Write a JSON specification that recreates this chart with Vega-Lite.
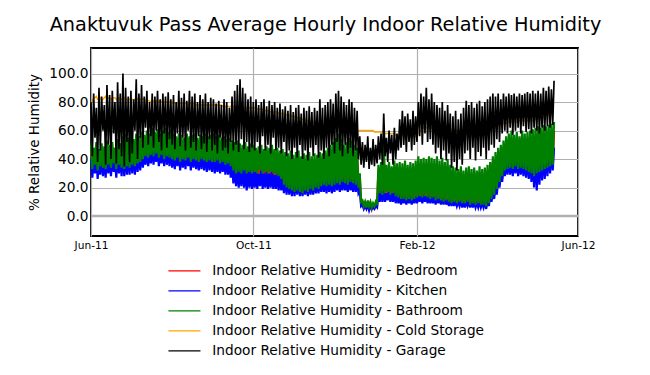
{
"$schema":"https://vega.github.io/schema/vega-lite/v6.json",
"autosize":"none","width":487,"height":188,
"padding":{"left":91,"top":48,"right":72,"bottom":139},
"background":"white",
"title":{"text":"Anaktuvuk Pass Average Hourly Indoor Relative Humidity","font":"DejaVu Sans","fontSize":19.3,"fontWeight":"normal","color":"black","anchor":"middle","dx":-9,"offset":13},
"config":{
"view":{"stroke":"black","strokeWidth":1.8},
"axis":{"domain":false,"ticks":false,"grid":true,"gridColor":"#b0b0b0","gridWidth":1.2,"labelFont":"DejaVu Sans","labelColor":"black","titleFont":"DejaVu Sans","titleColor":"black","titleFontWeight":"normal","labelOverlap":false},
"legend":{"labelFont":"DejaVu Sans","labelFontSize":13.7,"labelColor":"black","labelLimit":0}
},
"data":{"values":[
{"d":"2011-06-01","r":46,"k":40,"b":50,"c":79,"g":80},
{"d":"2011-06-02","r":32,"k":27,"b":33,"c":81,"g":42},
{"d":"2011-06-03","r":44,"k":41,"b":48,"c":83,"g":86},
{"d":"2011-06-04","r":34,"k":30,"b":36,"c":83,"g":55},
{"d":"2011-06-05","r":47,"k":42,"b":52,"c":84,"g":76},
{"d":"2011-06-06","r":31,"k":26,"b":32,"c":82,"g":38},
{"d":"2011-06-07","r":43,"k":38,"b":47,"c":82,"g":90},
{"d":"2011-06-08","r":33,"k":29,"b":35,"c":83,"g":46},
{"d":"2011-06-09","r":47,"k":43,"b":51,"c":81,"g":84},
{"d":"2011-06-10","r":32,"k":28,"b":34,"c":82,"g":60},
{"d":"2011-06-11","r":45,"k":40,"b":49,"c":83,"g":78},
{"d":"2011-06-12","r":31,"k":27,"b":33,"c":84,"g":36},
{"d":"2011-06-13","r":48,"k":44,"b":53,"c":82,"g":92},
{"d":"2011-06-14","r":34,"k":30,"b":36,"c":83,"g":50},
{"d":"2011-06-15","r":46,"k":41,"b":50,"c":83,"g":85},
{"d":"2011-06-16","r":32,"k":28,"b":34,"c":82,"g":40},
{"d":"2011-06-17","r":48,"k":43,"b":52,"c":82,"g":88},
{"d":"2011-06-18","r":35,"k":31,"b":37,"c":83,"g":58},
{"d":"2011-06-19","r":44,"k":39,"b":48,"c":83,"g":80},
{"d":"2011-06-20","r":31,"k":27,"b":33,"c":82,"g":37},
{"d":"2011-06-21","r":49,"k":44,"b":54,"c":82,"g":94},
{"d":"2011-06-22","r":34,"k":30,"b":36,"c":83,"g":47},
{"d":"2011-06-23","r":46,"k":42,"b":51,"c":82,"g":86},
{"d":"2011-06-24","r":32,"k":28,"b":34,"c":82,"g":42},
{"d":"2011-06-25","r":51,"k":46,"b":56,"c":82,"g":100},
{"d":"2011-06-26","r":31,"k":28,"b":33,"c":83,"g":35},
{"d":"2011-06-27","r":52,"k":47,"b":58,"c":82,"g":90},
{"d":"2011-06-28","r":33,"k":29,"b":35,"c":82,"g":52},
{"d":"2011-06-29","r":50,"k":45,"b":55,"c":81,"g":84},
{"d":"2011-06-30","r":32,"k":29,"b":34,"c":82,"g":38},
{"d":"2011-07-01","r":52,"k":46,"b":57,"c":82,"g":88},
{"d":"2011-07-02","r":34,"k":30,"b":36,"c":82,"g":44},
{"d":"2011-07-03","r":49,"k":45,"b":54,"c":81,"g":82},
{"d":"2011-07-04","r":33,"k":29,"b":35,"c":82,"g":60},
{"d":"2011-07-05","r":53,"k":47,"b":58,"c":83,"g":96},
{"d":"2011-07-06","r":35,"k":31,"b":37,"c":82,"g":40},
{"d":"2011-07-07","r":51,"k":46,"b":56,"c":82,"g":86},
{"d":"2011-07-08","r":36,"k":32,"b":38,"c":82,"g":55},
{"d":"2011-07-09","r":54,"k":48,"b":59,"c":82,"g":92},
{"d":"2011-07-10","r":38,"k":34,"b":40,"c":82,"g":48},
{"d":"2011-07-11","r":52,"k":46,"b":57,"c":82,"g":84},
{"d":"2011-07-12","r":40,"k":36,"b":42,"c":81,"g":62},
{"d":"2011-07-13","r":55,"k":48,"b":60,"c":82,"g":88},
{"d":"2011-07-14","r":39,"k":35,"b":41,"c":81,"g":50},
{"d":"2011-07-15","r":53,"k":47,"b":58,"c":81,"g":80},
{"d":"2011-07-16","r":41,"k":37,"b":43,"c":80,"g":56},
{"d":"2011-07-17","r":56,"k":49,"b":62,"c":81,"g":86},
{"d":"2011-07-18","r":40,"k":36,"b":42,"c":81,"g":48},
{"d":"2011-07-19","r":54,"k":48,"b":59,"c":80,"g":84},
{"d":"2011-07-20","r":42,"k":38,"b":44,"c":81,"g":60},
{"d":"2011-07-21","r":55,"k":49,"b":61,"c":80,"g":88},
{"d":"2011-07-22","r":39,"k":35,"b":41,"c":80,"g":52},
{"d":"2011-07-23","r":53,"k":47,"b":58,"c":81,"g":82},
{"d":"2011-07-24","r":41,"k":37,"b":43,"c":80,"g":46},
{"d":"2011-07-25","r":55,"k":48,"b":60,"c":80,"g":86},
{"d":"2011-07-26","r":38,"k":35,"b":40,"c":80,"g":58},
{"d":"2011-07-27","r":56,"k":50,"b":62,"c":80,"g":84},
{"d":"2011-07-28","r":40,"k":36,"b":42,"c":80,"g":48},
{"d":"2011-07-29","r":54,"k":47,"b":59,"c":80,"g":87},
{"d":"2011-07-30","r":39,"k":35,"b":41,"c":80,"g":54},
{"d":"2011-07-31","r":55,"k":48,"b":61,"c":80,"g":82},
{"d":"2011-08-01","r":38,"k":34,"b":40,"c":80,"g":50},
{"d":"2011-08-02","r":53,"k":47,"b":58,"c":79,"g":85},
{"d":"2011-08-03","r":37,"k":33,"b":39,"c":79,"g":47},
{"d":"2011-08-04","r":51,"k":46,"b":56,"c":79,"g":80},
{"d":"2011-08-05","r":39,"k":35,"b":41,"c":79,"g":58},
{"d":"2011-08-06","r":53,"k":47,"b":58,"c":80,"g":88},
{"d":"2011-08-07","r":36,"k":32,"b":38,"c":79,"g":49},
{"d":"2011-08-08","r":52,"k":46,"b":57,"c":79,"g":83},
{"d":"2011-08-09","r":38,"k":34,"b":40,"c":79,"g":55},
{"d":"2011-08-10","r":50,"k":45,"b":55,"c":79,"g":86},
{"d":"2011-08-11","r":37,"k":33,"b":39,"c":79,"g":46},
{"d":"2011-08-12","r":53,"k":47,"b":58,"c":79,"g":81},
{"d":"2011-08-13","r":39,"k":35,"b":41,"c":78,"g":60},
{"d":"2011-08-14","r":51,"k":45,"b":56,"c":79,"g":88},
{"d":"2011-08-15","r":36,"k":32,"b":38,"c":79,"g":48},
{"d":"2011-08-16","r":52,"k":46,"b":57,"c":78,"g":84},
{"d":"2011-08-17","r":38,"k":34,"b":40,"c":79,"g":52},
{"d":"2011-08-18","r":53,"k":47,"b":58,"c":79,"g":86},
{"d":"2011-08-19","r":37,"k":33,"b":39,"c":78,"g":46},
{"d":"2011-08-20","r":50,"k":44,"b":55,"c":78,"g":80},
{"d":"2011-08-21","r":36,"k":32,"b":38,"c":78,"g":56},
{"d":"2011-08-22","r":52,"k":46,"b":57,"c":78,"g":85},
{"d":"2011-08-23","r":38,"k":33,"b":40,"c":78,"g":47},
{"d":"2011-08-24","r":51,"k":45,"b":56,"c":78,"g":82},
{"d":"2011-08-25","r":37,"k":32,"b":39,"c":78,"g":51},
{"d":"2011-08-26","r":53,"k":46,"b":58,"c":78,"g":86},
{"d":"2011-08-27","r":36,"k":31,"b":38,"c":78,"g":45},
{"d":"2011-08-28","r":51,"k":45,"b":56,"c":78,"g":80},
{"d":"2011-08-29","r":37,"k":32,"b":39,"c":78,"g":54},
{"d":"2011-08-30","r":52,"k":44,"b":57,"c":78,"g":83},
{"d":"2011-08-31","r":36,"k":31,"b":38,"c":78,"g":46},
{"d":"2011-09-01","r":53,"k":45,"b":58,"c":78,"g":82},
{"d":"2011-09-02","r":36,"k":30,"b":38,"c":78,"g":50},
{"d":"2011-09-03","r":51,"k":43,"b":56,"c":78,"g":79},
{"d":"2011-09-04","r":37,"k":31,"b":39,"c":78,"g":44},
{"d":"2011-09-05","r":52,"k":44,"b":57,"c":77,"g":81},
{"d":"2011-09-06","r":35,"k":30,"b":37,"c":78,"g":55},
{"d":"2011-09-07","r":50,"k":42,"b":55,"c":78,"g":78},
{"d":"2011-09-08","r":36,"k":31,"b":38,"c":77,"g":46},
{"d":"2011-09-09","r":51,"k":43,"b":56,"c":77,"g":82},
{"d":"2011-09-10","r":34,"k":29,"b":36,"c":77,"g":48},
{"d":"2011-09-11","r":49,"k":41,"b":54,"c":77,"g":80},
{"d":"2011-09-12","r":35,"k":29,"b":37,"c":77,"g":44},
{"d":"2011-09-13","r":50,"k":40,"b":55,"c":77,"g":76},
{"d":"2011-09-14","r":33,"k":27,"b":35,"c":77,"g":52},
{"d":"2011-09-15","r":48,"k":37,"b":53,"c":77,"g":84},
{"d":"2011-09-16","r":30,"k":23,"b":32,"c":77,"g":46},
{"d":"2011-09-17","r":47,"k":35,"b":52,"c":77,"g":88},
{"d":"2011-09-18","r":28,"k":21,"b":30,"c":77,"g":50},
{"d":"2011-09-19","r":48,"k":34,"b":53,"c":77,"g":92},
{"d":"2011-09-20","r":29,"k":20,"b":31,"c":77,"g":45},
{"d":"2011-09-21","r":46,"k":33,"b":51,"c":77,"g":96},
{"d":"2011-09-22","r":28,"k":21,"b":30,"c":76,"g":54},
{"d":"2011-09-23","r":45,"k":34,"b":50,"c":77,"g":90},
{"d":"2011-09-24","r":30,"k":20,"b":32,"c":76,"g":47},
{"d":"2011-09-25","r":47,"k":33,"b":52,"c":76,"g":86},
{"d":"2011-09-26","r":28,"k":18,"b":30,"c":76,"g":52},
{"d":"2011-09-27","r":44,"k":32,"b":49,"c":77,"g":82},
{"d":"2011-09-28","r":29,"k":20,"b":31,"c":76,"g":45},
{"d":"2011-09-29","r":46,"k":33,"b":51,"c":76,"g":84},
{"d":"2011-09-30","r":28,"k":19,"b":30,"c":76,"g":48},
{"d":"2011-10-01","r":45,"k":32,"b":50,"c":76,"g":80},
{"d":"2011-10-02","r":29,"k":20,"b":31,"c":76,"g":46},
{"d":"2011-10-03","r":43,"k":31,"b":48,"c":76,"g":82},
{"d":"2011-10-04","r":28,"k":19,"b":30,"c":75,"g":52},
{"d":"2011-10-05","r":44,"k":30,"b":49,"c":75,"g":78},
{"d":"2011-10-06","r":30,"k":21,"b":32,"c":75,"g":44},
{"d":"2011-10-07","r":45,"k":32,"b":50,"c":75,"g":80},
{"d":"2011-10-08","r":28,"k":19,"b":30,"c":75,"g":56},
{"d":"2011-10-09","r":42,"k":30,"b":47,"c":74,"g":82},
{"d":"2011-10-10","r":29,"k":20,"b":31,"c":74,"g":46},
{"d":"2011-10-11","r":44,"k":31,"b":49,"c":74,"g":77},
{"d":"2011-10-12","r":28,"k":19,"b":30,"c":74,"g":50},
{"d":"2011-10-13","r":43,"k":30,"b":48,"c":74,"g":81},
{"d":"2011-10-14","r":29,"k":20,"b":31,"c":73,"g":44},
{"d":"2011-10-15","r":45,"k":31,"b":50,"c":73,"g":78},
{"d":"2011-10-16","r":28,"k":19,"b":30,"c":73,"g":55},
{"d":"2011-10-17","r":42,"k":29,"b":47,"c":73,"g":80},
{"d":"2011-10-18","r":27,"k":19,"b":29,"c":73,"g":46},
{"d":"2011-10-19","r":43,"k":30,"b":48,"c":73,"g":76},
{"d":"2011-10-20","r":26,"k":18,"b":28,"c":72,"g":48},
{"d":"2011-10-21","r":41,"k":29,"b":46,"c":72,"g":79},
{"d":"2011-10-22","r":24,"k":18,"b":26,"c":72,"g":44},
{"d":"2011-10-23","r":42,"k":28,"b":47,"c":72,"g":75},
{"d":"2011-10-24","r":20,"k":16,"b":22,"c":72,"g":52},
{"d":"2011-10-25","r":40,"k":28,"b":45,"c":71,"g":77},
{"d":"2011-10-26","r":18,"k":15,"b":20,"c":71,"g":42},
{"d":"2011-10-27","r":39,"k":27,"b":44,"c":71,"g":74},
{"d":"2011-10-28","r":17,"k":15,"b":19,"c":71,"g":46},
{"d":"2011-10-29","r":41,"k":27,"b":46,"c":70,"g":78},
{"d":"2011-10-30","r":17,"k":14,"b":18,"c":70,"g":40},
{"d":"2011-10-31","r":38,"k":26,"b":43,"c":70,"g":73},
{"d":"2011-11-01","r":16,"k":14,"b":17,"c":70,"g":48},
{"d":"2011-11-02","r":40,"k":27,"b":45,"c":69,"g":76},
{"d":"2011-11-03","r":17,"k":15,"b":18,"c":69,"g":41},
{"d":"2011-11-04","r":41,"k":28,"b":46,"c":69,"g":78},
{"d":"2011-11-05","r":16,"k":14,"b":17,"c":69,"g":50},
{"d":"2011-11-06","r":37,"k":26,"b":42,"c":68,"g":72},
{"d":"2011-11-07","r":15,"k":14,"b":16,"c":68,"g":40},
{"d":"2011-11-08","r":39,"k":27,"b":44,"c":68,"g":76},
{"d":"2011-11-09","r":17,"k":15,"b":18,"c":68,"g":46},
{"d":"2011-11-10","r":38,"k":26,"b":43,"c":67,"g":74},
{"d":"2011-11-11","r":16,"k":14,"b":17,"c":67,"g":39},
{"d":"2011-11-12","r":40,"k":27,"b":45,"c":67,"g":77},
{"d":"2011-11-13","r":18,"k":15,"b":19,"c":66,"g":48},
{"d":"2011-11-14","r":37,"k":25,"b":42,"c":66,"g":73},
{"d":"2011-11-15","r":17,"k":15,"b":18,"c":66,"g":42},
{"d":"2011-11-16","r":39,"k":26,"b":44,"c":66,"g":76},
{"d":"2011-11-17","r":19,"k":16,"b":20,"c":65,"g":50},
{"d":"2011-11-18","r":38,"k":25,"b":43,"c":65,"g":74},
{"d":"2011-11-19","r":18,"k":16,"b":19,"c":65,"g":41},
{"d":"2011-11-20","r":40,"k":26,"b":45,"c":65,"g":82},
{"d":"2011-11-21","r":20,"k":17,"b":21,"c":65,"g":46},
{"d":"2011-11-22","r":39,"k":25,"b":44,"c":64,"g":76},
{"d":"2011-11-23","r":21,"k":17,"b":22,"c":64,"g":40},
{"d":"2011-11-24","r":41,"k":26,"b":46,"c":64,"g":78},
{"d":"2011-11-25","r":20,"k":16,"b":21,"c":64,"g":48},
{"d":"2011-11-26","r":43,"k":26,"b":48,"c":63,"g":80},
{"d":"2011-11-27","r":21,"k":17,"b":22,"c":63,"g":42},
{"d":"2011-11-28","r":45,"k":27,"b":50,"c":63,"g":82},
{"d":"2011-11-29","r":20,"k":16,"b":21,"c":63,"g":50},
{"d":"2011-11-30","r":47,"k":26,"b":52,"c":63,"g":79},
{"d":"2011-12-01","r":21,"k":17,"b":22,"c":63,"g":44},
{"d":"2011-12-02","r":50,"k":27,"b":55,"c":62,"g":86},
{"d":"2011-12-03","r":22,"k":18,"b":23,"c":62,"g":52},
{"d":"2011-12-04","r":52,"k":27,"b":58,"c":62,"g":88},
{"d":"2011-12-05","r":21,"k":17,"b":22,"c":62,"g":46},
{"d":"2011-12-06","r":49,"k":26,"b":54,"c":62,"g":84},
{"d":"2011-12-07","r":23,"k":18,"b":24,"c":62,"g":42},
{"d":"2011-12-08","r":45,"k":27,"b":50,"c":61,"g":80},
{"d":"2011-12-09","r":22,"k":18,"b":23,"c":61,"g":50},
{"d":"2011-12-10","r":47,"k":26,"b":52,"c":61,"g":78},
{"d":"2011-12-11","r":21,"k":17,"b":22,"c":61,"g":44},
{"d":"2011-12-12","r":50,"k":27,"b":55,"c":61,"g":82},
{"d":"2011-12-13","r":23,"k":18,"b":24,"c":61,"g":48},
{"d":"2011-12-14","r":48,"k":26,"b":53,"c":61,"g":80},
{"d":"2011-12-15","r":22,"k":17,"b":23,"c":61,"g":42},
{"d":"2011-12-16","r":45,"k":26,"b":50,"c":61,"g":76},
{"d":"2011-12-17","r":21,"k":17,"b":22,"c":60,"g":46},
{"d":"2011-12-18","r":43,"k":25,"b":48,"c":60,"g":74},
{"d":"2011-12-19","r":19,"k":16,"b":20,"c":60,"g":40},
{"d":"2011-12-20","r":27,"k":18,"b":30,"c":60,"g":56},
{"d":"2011-12-21","r":9,"k":7,"b":10,"c":60,"g":36},
{"d":"2011-12-22","r":10,"k":8,"b":11,"c":60,"g":52},
{"d":"2011-12-23","r":6,"k":5,"b":7,"c":60,"g":34},
{"d":"2011-12-24","r":9,"k":7,"b":10,"c":60,"g":50},
{"d":"2011-12-25","r":6,"k":5,"b":6,"c":60,"g":38},
{"d":"2011-12-26","r":10,"k":8,"b":11,"c":60,"g":56},
{"d":"2011-12-27","r":6,"k":4,"b":7,"c":60,"g":33},
{"d":"2011-12-28","r":9,"k":7,"b":10,"c":60,"g":48},
{"d":"2011-12-29","r":5,"k":5,"b":6,"c":60,"g":36},
{"d":"2011-12-30","r":8,"k":6,"b":9,"c":60,"g":54},
{"d":"2011-12-31","r":6,"k":5,"b":7,"c":59,"g":35},
{"d":"2012-01-01","r":9,"k":7,"b":10,"c":59,"g":50},
{"d":"2012-01-02","r":7,"k":6,"b":8,"c":59,"g":37},
{"d":"2012-01-03","r":32,"k":17,"b":36,"c":59,"g":56},
{"d":"2012-01-04","r":14,"k":10,"b":16,"c":59,"g":40},
{"d":"2012-01-05","r":34,"k":18,"b":38,"c":59,"g":58},
{"d":"2012-01-06","r":13,"k":10,"b":15,"c":59,"g":36},
{"d":"2012-01-07","r":46,"k":18,"b":54,"c":59,"g":72},
{"d":"2012-01-08","r":14,"k":10,"b":16,"c":58,"g":42},
{"d":"2012-01-09","r":32,"k":16,"b":36,"c":58,"g":55},
{"d":"2012-01-10","r":15,"k":11,"b":17,"c":58,"g":38},
{"d":"2012-01-11","r":34,"k":17,"b":38,"c":58,"g":60},
{"d":"2012-01-12","r":13,"k":10,"b":15,"c":58,"g":44},
{"d":"2012-01-13","r":31,"k":16,"b":35,"c":58,"g":57},
{"d":"2012-01-14","r":14,"k":10,"b":16,"c":58,"g":36},
{"d":"2012-01-15","r":35,"k":17,"b":39,"c":58,"g":62},
{"d":"2012-01-16","r":12,"k":9,"b":14,"c":57,"g":40},
{"d":"2012-01-17","r":33,"k":16,"b":37,"c":57,"g":58},
{"d":"2012-01-18","r":12,"k":9,"b":13,"c":57,"g":46},
{"d":"2012-01-19","r":34,"k":15,"b":38,"c":57,"g":68},
{"d":"2012-01-20","r":11,"k":8,"b":12,"c":57,"g":48},
{"d":"2012-01-21","r":33,"k":14,"b":37,"c":57,"g":74},
{"d":"2012-01-22","r":11,"k":9,"b":12,"c":57,"g":50},
{"d":"2012-01-23","r":35,"k":14,"b":39,"c":57,"g":70},
{"d":"2012-01-24","r":10,"k":8,"b":11,"c":56,"g":45},
{"d":"2012-01-25","r":32,"k":13,"b":36,"c":56,"g":72},
{"d":"2012-01-26","r":11,"k":9,"b":12,"c":56,"g":52},
{"d":"2012-01-27","r":34,"k":14,"b":38,"c":56,"g":68},
{"d":"2012-01-28","r":10,"k":8,"b":11,"c":56,"g":46},
{"d":"2012-01-29","r":33,"k":13,"b":37,"c":56,"g":74},
{"d":"2012-01-30","r":11,"k":9,"b":12,"c":56,"g":50},
{"d":"2012-01-31","r":35,"k":14,"b":39,"c":56,"g":70},
{"d":"2012-02-01","r":12,"k":9,"b":13,"c":56,"g":52},
{"d":"2012-02-02","r":37,"k":15,"b":42,"c":58,"g":80},
{"d":"2012-02-03","r":13,"k":10,"b":14,"c":59,"g":56},
{"d":"2012-02-04","r":36,"k":14,"b":40,"c":60,"g":86},
{"d":"2012-02-05","r":12,"k":9,"b":13,"c":61,"g":50},
{"d":"2012-02-06","r":37,"k":15,"b":41,"c":62,"g":84},
{"d":"2012-02-07","r":13,"k":10,"b":14,"c":62,"g":58},
{"d":"2012-02-08","r":36,"k":14,"b":40,"c":62,"g":90},
{"d":"2012-02-09","r":12,"k":9,"b":13,"c":62,"g":52},
{"d":"2012-02-10","r":37,"k":15,"b":42,"c":62,"g":82},
{"d":"2012-02-11","r":11,"k":9,"b":12,"c":61,"g":54},
{"d":"2012-02-12","r":37,"k":14,"b":41,"c":62,"g":86},
{"d":"2012-02-13","r":12,"k":9,"b":13,"c":61,"g":50},
{"d":"2012-02-14","r":36,"k":14,"b":40,"c":61,"g":80},
{"d":"2012-02-15","r":10,"k":8,"b":11,"c":61,"g":44},
{"d":"2012-02-16","r":37,"k":14,"b":42,"c":61,"g":78},
{"d":"2012-02-17","r":11,"k":9,"b":12,"c":61,"g":48},
{"d":"2012-02-18","r":35,"k":13,"b":39,"c":61,"g":76},
{"d":"2012-02-19","r":10,"k":8,"b":11,"c":61,"g":40},
{"d":"2012-02-20","r":36,"k":13,"b":41,"c":61,"g":80},
{"d":"2012-02-21","r":9,"k":8,"b":10,"c":61,"g":46},
{"d":"2012-02-22","r":34,"k":13,"b":38,"c":60,"g":74},
{"d":"2012-02-23","r":10,"k":8,"b":11,"c":60,"g":39},
{"d":"2012-02-24","r":35,"k":12,"b":40,"c":60,"g":78},
{"d":"2012-02-25","r":9,"k":7,"b":10,"c":60,"g":44},
{"d":"2012-02-26","r":32,"k":12,"b":36,"c":60,"g":72},
{"d":"2012-02-27","r":8,"k":7,"b":9,"c":60,"g":34},
{"d":"2012-02-28","r":31,"k":11,"b":35,"c":60,"g":70},
{"d":"2012-02-29","r":9,"k":7,"b":10,"c":60,"g":38},
{"d":"2012-03-01","r":30,"k":11,"b":34,"c":60,"g":74},
{"d":"2012-03-02","r":8,"k":7,"b":9,"c":60,"g":32},
{"d":"2012-03-03","r":29,"k":10,"b":33,"c":60,"g":68},
{"d":"2012-03-04","r":9,"k":7,"b":10,"c":60,"g":40},
{"d":"2012-03-05","r":31,"k":11,"b":35,"c":60,"g":72},
{"d":"2012-03-06","r":8,"k":6,"b":9,"c":60,"g":36},
{"d":"2012-03-07","r":28,"k":10,"b":32,"c":60,"g":76},
{"d":"2012-03-08","r":8,"k":6,"b":9,"c":61,"g":44},
{"d":"2012-03-09","r":30,"k":10,"b":34,"c":61,"g":81},
{"d":"2012-03-10","r":9,"k":7,"b":10,"c":61,"g":46},
{"d":"2012-03-11","r":31,"k":10,"b":35,"c":61,"g":78},
{"d":"2012-03-12","r":7,"k":6,"b":8,"c":61,"g":40},
{"d":"2012-03-13","r":29,"k":10,"b":33,"c":61,"g":80},
{"d":"2012-03-14","r":8,"k":6,"b":9,"c":61,"g":48},
{"d":"2012-03-15","r":30,"k":10,"b":34,"c":61,"g":76},
{"d":"2012-03-16","r":7,"k":6,"b":8,"c":61,"g":39},
{"d":"2012-03-17","r":28,"k":9,"b":32,"c":61,"g":79},
{"d":"2012-03-18","r":8,"k":6,"b":9,"c":61,"g":45},
{"d":"2012-03-19","r":31,"k":10,"b":35,"c":61,"g":81},
{"d":"2012-03-20","r":7,"k":6,"b":8,"c":61,"g":42},
{"d":"2012-03-21","r":29,"k":9,"b":33,"c":61,"g":77},
{"d":"2012-03-22","r":7,"k":6,"b":8,"c":62,"g":48},
{"d":"2012-03-23","r":30,"k":10,"b":34,"c":62,"g":80},
{"d":"2012-03-24","r":6,"k":5,"b":7,"c":62,"g":40},
{"d":"2012-03-25","r":32,"k":12,"b":36,"c":62,"g":82},
{"d":"2012-03-26","r":8,"k":7,"b":9,"c":62,"g":46},
{"d":"2012-03-27","r":34,"k":14,"b":38,"c":62,"g":84},
{"d":"2012-03-28","r":11,"k":10,"b":12,"c":62,"g":50},
{"d":"2012-03-29","r":38,"k":18,"b":42,"c":63,"g":86},
{"d":"2012-03-30","r":14,"k":12,"b":15,"c":63,"g":48},
{"d":"2012-03-31","r":40,"k":22,"b":45,"c":63,"g":84},
{"d":"2012-04-01","r":17,"k":15,"b":19,"c":63,"g":54},
{"d":"2012-04-02","r":43,"k":26,"b":48,"c":64,"g":86},
{"d":"2012-04-03","r":22,"k":20,"b":24,"c":64,"g":52},
{"d":"2012-04-04","r":45,"k":30,"b":50,"c":64,"g":82},
{"d":"2012-04-05","r":26,"k":24,"b":28,"c":65,"g":58},
{"d":"2012-04-06","r":48,"k":34,"b":53,"c":65,"g":86},
{"d":"2012-04-07","r":30,"k":28,"b":32,"c":65,"g":60},
{"d":"2012-04-08","r":51,"k":38,"b":56,"c":65,"g":84},
{"d":"2012-04-09","r":31,"k":29,"b":33,"c":66,"g":58},
{"d":"2012-04-10","r":53,"k":40,"b":58,"c":66,"g":86},
{"d":"2012-04-11","r":32,"k":29,"b":34,"c":66,"g":62},
{"d":"2012-04-12","r":54,"k":41,"b":60,"c":66,"g":85},
{"d":"2012-04-13","r":31,"k":28,"b":33,"c":66,"g":57},
{"d":"2012-04-14","r":52,"k":40,"b":57,"c":66,"g":86},
{"d":"2012-04-15","r":33,"k":30,"b":35,"c":66,"g":60},
{"d":"2012-04-16","r":53,"k":42,"b":59,"c":66,"g":84},
{"d":"2012-04-17","r":31,"k":28,"b":33,"c":66,"g":62},
{"d":"2012-04-18","r":51,"k":40,"b":56,"c":67,"g":86},
{"d":"2012-04-19","r":32,"k":29,"b":34,"c":67,"g":58},
{"d":"2012-04-20","r":54,"k":41,"b":60,"c":67,"g":85},
{"d":"2012-04-21","r":31,"k":28,"b":33,"c":67,"g":63},
{"d":"2012-04-22","r":52,"k":40,"b":58,"c":67,"g":86},
{"d":"2012-04-23","r":30,"k":27,"b":32,"c":67,"g":59},
{"d":"2012-04-24","r":53,"k":42,"b":59,"c":67,"g":87},
{"d":"2012-04-25","r":29,"k":26,"b":31,"c":67,"g":61},
{"d":"2012-04-26","r":54,"k":42,"b":60,"c":67,"g":86},
{"d":"2012-04-27","r":28,"k":24,"b":30,"c":67,"g":58},
{"d":"2012-04-28","r":55,"k":43,"b":61,"c":67,"g":88},
{"d":"2012-04-29","r":26,"k":20,"b":28,"c":68,"g":62},
{"d":"2012-04-30","r":56,"k":44,"b":62,"c":68,"g":86},
{"d":"2012-05-01","r":28,"k":18,"b":30,"c":68,"g":60},
{"d":"2012-05-02","r":57,"k":44,"b":63,"c":68,"g":88},
{"d":"2012-05-03","r":29,"k":22,"b":31,"c":68,"g":58},
{"d":"2012-05-04","r":56,"k":45,"b":62,"c":69,"g":86},
{"d":"2012-05-05","r":30,"k":25,"b":32,"c":69,"g":62},
{"d":"2012-05-06","r":58,"k":45,"b":64,"c":69,"g":90},
{"d":"2012-05-07","r":31,"k":26,"b":33,"c":70,"g":60},
{"d":"2012-05-08","r":57,"k":46,"b":63,"c":70,"g":88},
{"d":"2012-05-09","r":32,"k":28,"b":34,"c":71,"g":63},
{"d":"2012-05-10","r":58,"k":46,"b":64,"c":71,"g":91},
{"d":"2012-05-11","r":33,"k":30,"b":35,"c":72,"g":62},
{"d":"2012-05-12","r":59,"k":47,"b":65,"c":72,"g":89},
{"d":"2012-05-13","r":34,"k":32,"b":36,"c":73,"g":64},
{"d":"2012-05-14","r":60,"k":48,"b":66,"c":73,"g":95}
],"format":{"parse":{"d":"date:'%Y-%m-%d'"}}},
"encoding":{
"x":{"field":"d","type":"temporal",
"scale":{"domain":[{"year":2011,"month":6,"date":1},{"year":2012,"month":6,"date":1}],"nice":false},
"axis":{"title":null,"format":"%b-%y","labelFontSize":10.6,"labelPadding":4,"labelFlush":false,
"values":[{"year":2011,"month":6,"date":1},{"year":2011,"month":10,"date":1},{"year":2012,"month":2,"date":1},{"year":2012,"month":6,"date":1}]}}
},
"layer":[
{"mark":{"type":"rule","color":"#b0b0b0","strokeWidth":2.5},
"data":{"values":[{"z":0}]},
"encoding":{"x":null,"y":{"field":"z","type":"quantitative","axis":{"title":"% Relative Humidity","titleFontSize":13.5,"titlePadding":7,"labelFontSize":13.7,"labelPadding":3,"format":".1f","values":[0,20,40,60,80,100],"labelOverlap":false}}}},
{"mark":{"type":"line","strokeWidth":2.2},
"encoding":{
"y":{"field":"r","type":"quantitative","scale":{"domain":[-14,118],"nice":false,"zero":false},"axis":{"title":"% Relative Humidity","titleFontSize":13.5,"titlePadding":7,"labelFontSize":13.7,"labelPadding":3,"format":".1f","values":[0,20,40,60,80,100],"labelOverlap":false}},
"color":{"datum":"Indoor Relative Humidity - Bedroom","type":"nominal",
"scale":{"domain":["Indoor Relative Humidity - Bedroom","Indoor Relative Humidity - Kitchen","Indoor Relative Humidity - Bathroom","Indoor Relative Humidity - Cold Storage","Indoor Relative Humidity - Garage"],"range":["#ff0000","#0000ff","#008000","#ffa500","#000000"]},
"legend":{"title":null,"orient":"none","legendX":86.6,"legendY":216,"symbolType":"M-3,0H3","symbolSize":114,"symbolStrokeWidth":1.2,"labelOffset":21,"rowPadding":5}}}},
{"mark":{"type":"line","strokeWidth":2.2},
"encoding":{"y":{"field":"k","type":"quantitative","axis":{"title":"% Relative Humidity","titleFontSize":13.5,"titlePadding":7,"labelFontSize":13.7,"labelPadding":3,"format":".1f","values":[0,20,40,60,80,100],"labelOverlap":false}},"color":{"datum":"Indoor Relative Humidity - Kitchen","type":"nominal"}}},
{"mark":{"type":"line","strokeWidth":2.2},
"encoding":{"y":{"field":"b","type":"quantitative","axis":{"title":"% Relative Humidity","titleFontSize":13.5,"titlePadding":7,"labelFontSize":13.7,"labelPadding":3,"format":".1f","values":[0,20,40,60,80,100],"labelOverlap":false}},"color":{"datum":"Indoor Relative Humidity - Bathroom","type":"nominal"}}},
{"mark":{"type":"line","strokeWidth":1.5},
"encoding":{"y":{"field":"c","type":"quantitative","axis":{"title":"% Relative Humidity","titleFontSize":13.5,"titlePadding":7,"labelFontSize":13.7,"labelPadding":3,"format":".1f","values":[0,20,40,60,80,100],"labelOverlap":false}},"color":{"datum":"Indoor Relative Humidity - Cold Storage","type":"nominal"}}},
{"mark":{"type":"line","strokeWidth":1.7},
"encoding":{"y":{"field":"g","type":"quantitative","axis":{"title":"% Relative Humidity","titleFontSize":13.5,"titlePadding":7,"labelFontSize":13.7,"labelPadding":3,"format":".1f","values":[0,20,40,60,80,100],"labelOverlap":false}},"color":{"datum":"Indoor Relative Humidity - Garage","type":"nominal"}}}
]
}
